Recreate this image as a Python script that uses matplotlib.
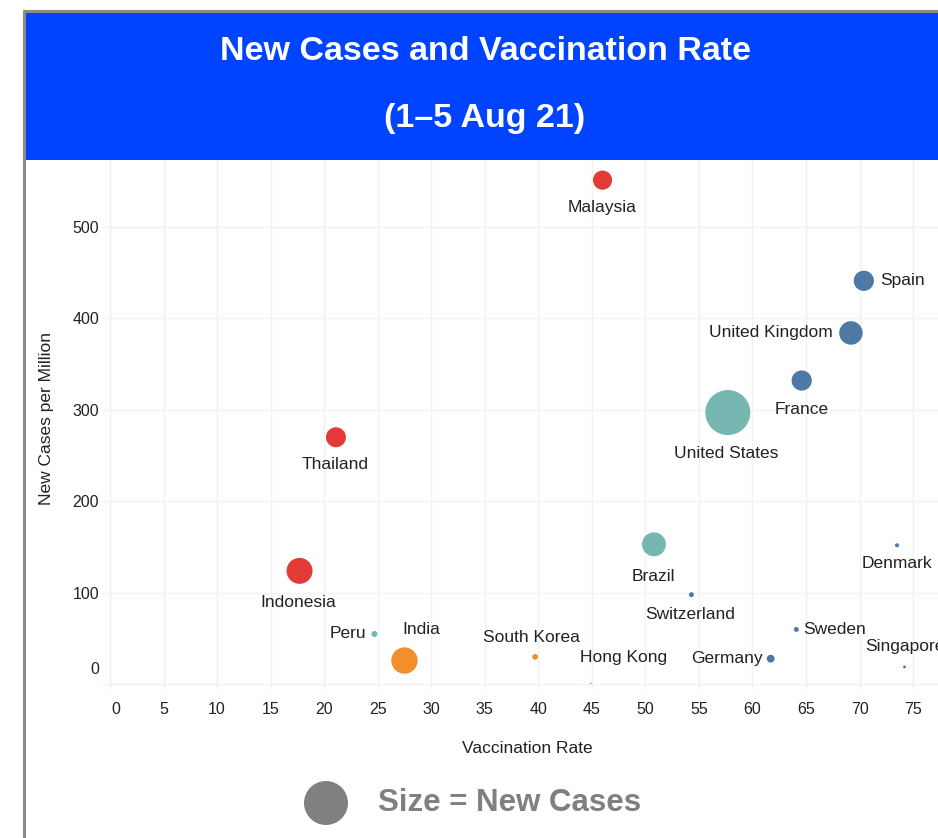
import matplotlib
matplotlib.use("Agg")
import matplotlib.pyplot as plt
from matplotlib.patches import Rectangle, Ellipse
from matplotlib.lines import Line2D
import matplotlib.transforms as mtransforms

plt.rcParams['font.family'] = ['Liberation Sans', 'DejaVu Sans']

# ---------------- data ----------------
countries = ["Malaysia", "Spain", "United Kingdom", "France", "United States",
             "Thailand", "Indonesia", "Brazil", "Denmark", "Switzerland",
             "Sweden", "Germany", "Singapore", "Hong Kong", "South Korea",
             "India", "Peru"]
vaccination_rate = [46.0, 70.4, 69.2, 64.6, 57.7,
                    21.1, 17.7, 50.8, 73.5, 54.3,
                    64.1, 61.7, 74.2, 44.9, 39.7,
                    27.5, 24.7]
cases_per_million = [551, 441, 384, 332, 297,
                     270, 124, 153, 152, 98,
                     60, 28, 19, 1, 30,
                     26, 55]
new_cases_k = [18, 20, 27, 20, 99,
               19.5, 33, 28, 0.8, 1.2,
               1.2, 3.0, 0.4, 0.15, 1.6,
               34, 1.8]
region = ["SE Asia", "Europe", "Europe", "Europe", "Americas",
          "SE Asia", "SE Asia", "Americas", "Europe", "Europe",
          "Europe", "Europe", "SE Asia", "Asia", "Asia",
          "Asia", "Americas"]
x_ticks = list(range(0, 80, 5))
y_ticks = [0, 100, 200, 300, 400, 500]

region_colors = {"SE Asia": "#E33A36", "Europe": "#4E79A7",
                 "Americas": "#76B7B2", "Asia": "#F28E2B"}

# label placement: (dx px, dy px, ha)
label_pos = {
    "Malaysia": (0, -27, "center"),
    "Spain": (16, 0, "left"),
    "United Kingdom": (-18, 0, "right"),
    "France": (0, -29, "center"),
    "United States": (-2, -41, "center"),
    "Thailand": (-1, -27, "center"),
    "Indonesia": (-1, -32, "center"),
    "Brazil": (-1, -32, "center"),
    "Denmark": (0, -18, "center"),
    "Switzerland": (-1, -20, "center"),
    "Sweden": (7, 0, "left"),
    "Germany": (-8, 0, "right"),
    "Singapore": (0, 20, "center"),
    "Hong Kong": (33, 26, "center"),
    "South Korea": (-4, 19, "center"),
    "India": (17, 31, "center"),
    "Peru": (-8, 0, "right"),
}

W, H = 938, 838
fig = plt.figure(figsize=(W / 100, H / 100), dpi=100)
fig.patch.set_facecolor("white")

def fx(px):
    return px / W

def fy(py):
    return 1 - py / H

# axes
ax = fig.add_axes([fx(102), fy(690), fx(938) - fx(102), fy(160) - fy(690)])
ax.set_xlim(-0.75, 77.33)
ax.set_ylim(-6.2, 573)
for s in ax.spines.values():
    s.set_visible(False)
ax.set_xticks(x_ticks)
ax.set_yticks(y_ticks)
ax.grid(True, color="#F2F2F2", linewidth=1.0)
ax.set_axisbelow(True)
ax.tick_params(axis="both", length=0, labelsize=11.5, labelcolor="#222222")
ax.tick_params(axis="x", pad=8.5)
ax.tick_params(axis="y", pad=2)

# quirk: first tick labels shifted inward
fig.canvas.draw()
for lab, val in zip(ax.get_yticklabels(), y_ticks):
    if val == 0:
        lab.set_transform(lab.get_transform() + mtransforms.ScaledTranslation(0, 16 / 100, fig.dpi_scale_trans))
for lab, val in zip(ax.get_xticklabels(), x_ticks):
    if val == 0:
        lab.set_transform(lab.get_transform() + mtransforms.ScaledTranslation(6 / 100, 0, fig.dpi_scale_trans))

sizes = [c * 10.6 for c in new_cases_k]
colors = [region_colors[r] for r in region]
ax.scatter(vaccination_rate, cases_per_million, s=sizes, c=colors,
           linewidths=0, zorder=3, clip_on=False)

for name, xv, yv in zip(countries, vaccination_rate, cases_per_million):
    dx, dy, ha = label_pos[name]
    ax.annotate(name, (xv, yv), xytext=(dx, dy), textcoords="offset pixels",
                ha=ha, va="center", fontsize=12.5, color="#222222", zorder=4,
                annotation_clip=False)

# axis titles
fig.text(fx(527), fy(748), "Vaccination Rate", ha="center", va="center",
         fontsize=12.5, color="#222222")
fig.text(fx(47), fy(418), "New Cases per Million", ha="center", va="center",
         rotation=90, fontsize=12.5, color="#222222")

# banner
fig.add_artist(Rectangle((fx(25), fy(160)), fx(938) - fx(25), fy(12) - fy(160),
                         transform=fig.transFigure, facecolor="#0044FF",
                         edgecolor="none", zorder=5))
fig.add_artist(Line2D([fx(23.5), fx(23.5)], [fy(10), 0], transform=fig.transFigure,
                      color="#8A8A8A", linewidth=2.2, zorder=6, solid_capstyle="butt"))
fig.add_artist(Line2D([fx(22.5), 1], [fy(10.8), fy(10.8)], transform=fig.transFigure,
                      color="#8A8A8A", linewidth=2.2, zorder=6, solid_capstyle="butt"))
fig.text(fx(485), fy(52), "New Cases and Vaccination Rate", ha="center", va="center",
         fontsize=24.5, fontweight="bold", color="white", zorder=7)
fig.text(fx(485), fy(118), "(1\u20135 Aug 21)", ha="center", va="center",
         fontsize=24.5, fontweight="bold", color="white", zorder=7)

# size legend
fig.add_artist(Ellipse((fx(326), fy(803)), 44 / W, 44 / H, transform=fig.transFigure,
                       facecolor="#808080", edgecolor="none"))
fig.text(fx(378), fy(803), "Size = New Cases", ha="left", va="center",
         fontsize=22.5, fontweight="bold", color="#808080")

fig.savefig("out.png", dpi=100)
